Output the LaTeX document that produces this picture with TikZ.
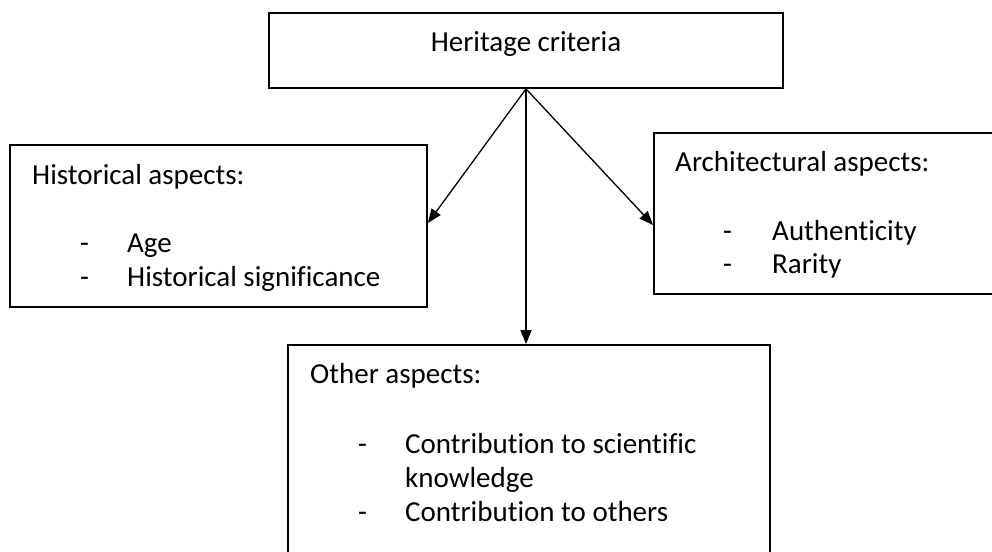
\documentclass[tikz,border=0pt]{standalone}
\usepackage{fontspec}
\setmainfont{Carlito}[Ligatures=NoCommon]
\usetikzlibrary{arrows.meta}
\begin{document}
\begin{tikzpicture}[x=1pt,y=-1pt,
  box/.style={draw,line width=1.8pt,rectangle,inner sep=0pt},
  txt/.style={anchor=base west,inner sep=0pt,font=\fontsize{29}{35}\selectfont},
  ctxt/.style={anchor=base,inner sep=0pt,font=\fontsize{29}{35}\selectfont},
  link/.style={line width=1.3pt,-{Triangle[length=14pt,width=11pt]}}]
\useasboundingbox (0,0) rectangle (992,551);
\clip (0,0) rectangle (992,551);

% boxes (the right and bottom ones run past the page edge)
\node[box,minimum width=514pt,minimum height=75pt] (top) at (526,50.5) {};
\node[box,minimum width=417pt,minimum height=162pt] (hist) at (218.5,226) {};
\node[box,minimum width=356pt,minimum height=161pt] (arch) at (832,213.5) {};
\node[box,minimum width=482pt,minimum height=255pt] (other) at (529,472.5) {};

% top box
\node[ctxt] (t0) at (526,52) {Heritage criteria};

% historical aspects
\node[txt] (h0) at (32,184) {Historical aspects:};
\node[txt] (h1d) at (80,252) {-};
\node[txt] (h1) at (127,252) {Age};
\node[txt] (h2d) at (80,286) {-};
\node[txt] (h2) at (127,286) {Historical significance};

% architectural aspects
\node[txt] (a0) at (675,171) {Architectural aspects:};
\node[txt] (a1d) at (723,240) {-};
\node[txt] (a1) at (772,240) {Authenticity};
\node[txt] (a2d) at (723,273) {-};
\node[txt] (a2) at (772,273) {Rarity};

% other aspects
\node[txt] (o0) at (310,383) {Other aspects:};
\node[txt] (o1d) at (358,453) {-};
\node[txt] (o1) at (405,453) {Contribution to scientific};
\node[txt] (o1b) at (405,487) {knowledge};
\node[txt] (o2d) at (358,521) {-};
\node[txt] (o2) at (405,521) {Contribution to others};

% connectors
\draw[link] (top.south) -- ([yshift=3pt]hist.east);
\draw[link] (top.south) -- ([yshift=-11.5pt]arch.west);
\draw[link] (top.south) -- (top.south |- other.north);
\end{tikzpicture}
\end{document}
